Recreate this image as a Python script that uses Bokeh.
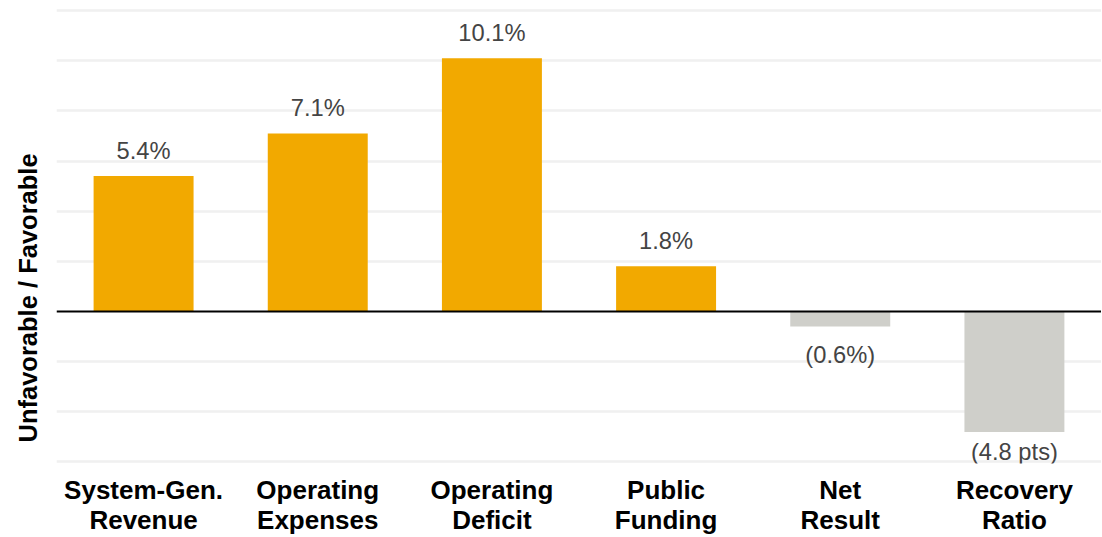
from bokeh.plotting import figure
from bokeh.models import ColumnDataSource, FactorRange, FixedTicker, Span, Title
from bokeh.core.properties import value
from bokeh.embed import file_html
from bokeh.resources import INLINE

categories = ["System-Gen.\nRevenue", "Operating\nExpenses", "Operating\nDeficit",
              "Public\nFunding", "Net\nResult", "Recovery\nRatio"]
values = [5.4, 7.1, 10.1, 1.8, -0.6, -4.8]
value_labels = ["5.4%", "7.1%", "10.1%", "1.8%", "(0.6%)", "(4.8 pts)"]
grid_ticks = [-6, -4, -2, 2, 4, 6, 8, 10, 12]
y_title = "Unfavorable / Favorable"

POS = "#F2A900"
NEG = "#CFCFCA"
FONT = "Liberation Sans"
Y_MIN, Y_MAX = -6.06, 12.4

colors = [POS if v >= 0 else NEG for v in values]
# label anchor: above positive bars, below negative bars (kept inside the plot)
label_y = [v + 1.0 if v >= 0 else max(v - 1.12, -5.6) for v in values]
src = ColumnDataSource(dict(cat=categories, val=values, lab=value_labels,
                            col=colors, ly=label_y))

p = figure(x_range=FactorRange(*categories, range_padding=0), y_range=(Y_MIN, Y_MAX),
           width=1101, height=537, output_backend="svg", toolbar_location=None,
           min_border_left=56, min_border_right=0, min_border_top=0, min_border_bottom=71)
p.outline_line_color = None
p.background_fill_color = "white"

p.vbar(x="cat", top="val", bottom=0, width=0.574, color="col", source=src, line_color=None)

p.add_layout(Span(location=0, dimension="width", line_color="black", line_width=2))

p.text(x="cat", y="ly", text="lab", source=src, text_align="center",
       text_baseline="middle", text_font=value(FONT),
       text_font_size="23.7px", text_color="#444444")

p.xgrid.grid_line_color = None
p.ygrid.ticker = FixedTicker(ticks=grid_ticks)
p.ygrid.grid_line_color = "#F0F0F0"
p.ygrid.grid_line_width = 2.5

p.yaxis.visible = False
p.add_layout(Title(text=y_title, align="left", offset=21, standoff=26,
                   vertical_align="top",
                   text_font=FONT, text_font_size="25.5px", text_font_style="bold",
                   text_color="black"), "left")

p.xaxis.axis_line_color = None
p.xaxis.major_tick_line_color = None
p.xaxis.major_tick_out = 0
p.xaxis.major_tick_in = 0
p.xaxis.major_label_standoff = 11
p.xaxis.major_label_text_font = FONT
p.xaxis.major_label_text_font_size = "26px"
p.xaxis.major_label_text_font_style = "bold"
p.xaxis.major_label_text_color = "black"
p.xaxis.major_label_text_line_height = 1.0

open("out.html", "w").write(file_html(p, INLINE))
